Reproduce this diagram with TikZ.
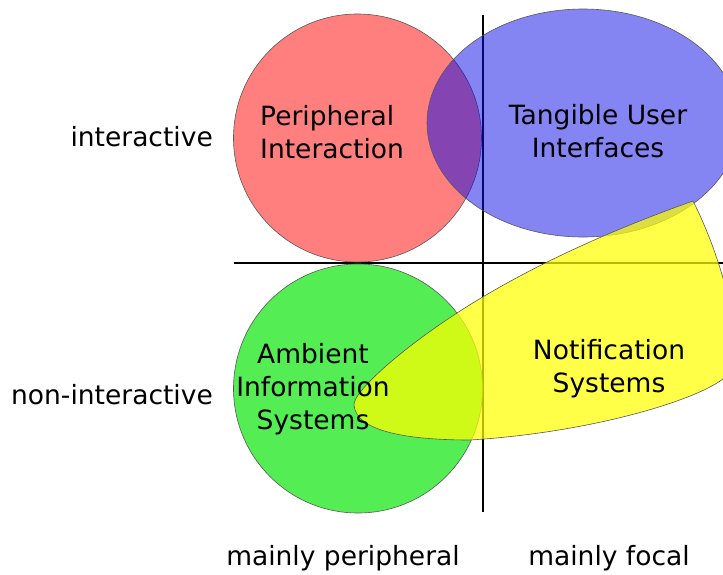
\documentclass[tikz,border=0pt]{standalone}
\usepackage{fontspec}
\setmainfont{DejaVu Sans}
\begin{document}
\begin{tikzpicture}[x=1pt,y=-1pt,
  axis/.style={line width=2pt,black},
  region/.style={draw=black!65,line width=0.6pt},
  lbl/.style={inner sep=0pt,align=center,font=\fontsize{26.5}{33}\selectfont},
  axislbl/.style={inner sep=0pt,font=\fontsize{26.5}{33}\selectfont}]
\clip (0,0) rectangle (723,574);
\fill[white] (0,0) rectangle (723,574);

% axes of the two-by-two grid
\coordinate (vtop) at (483,15);
\coordinate (vbot) at (483,512);
\coordinate (hleft) at (234,263);
\coordinate (hright) at (723,263);
\draw[axis] (vtop) -- (vbot);
\draw[axis] (hleft) -- (hright);

% overlapping translucent regions
\fill[region,fill=red,fill opacity=0.5] (357.5,138) circle (124);
\fill[region,fill={rgb,255:red,10;green,10;blue,230},fill opacity=0.5] (583,123) ellipse (156 and 114);
\fill[region,fill={rgb,255:red,0;green,230;blue,0},fill opacity=0.67] (358,388.5) circle (124.5);
\fill[region,fill={rgb,255:red,255;green,255;blue,0},fill opacity=0.72]
  (693,201) .. controls (718,250) and (745,335) .. (730,372)
  .. controls (715,395) and (600,432) .. (470,440)
  .. controls (410,440) and (356,432) .. (354,405)
  .. controls (353,392) and (400,350) .. (457,313)
  .. controls (520,272) and (600,234) .. (693,201) -- cycle;

% region labels
\node[lbl,align=left,anchor=west] (pi) at (260,132) {Peripheral\\Interaction};
\node[lbl] (tui) at (598,131) {Tangible User\\Interfaces};
\node[lbl] (ais) at (313,389) {Ambient\\Information\\Systems};
\node[lbl] (ns) at (609,368.5) {Notification\\Systems};

% axis labels
\node[axislbl,anchor=east] (inter) at (213,137) {interactive};
\node[axislbl,anchor=east] (noninter) at (213,395) {non-interactive};
\node[axislbl] (periph) at (343,558.5) {mainly peripheral};
\node[axislbl] (focal) at (609,558.5) {mainly focal};
\end{tikzpicture}
\end{document}
